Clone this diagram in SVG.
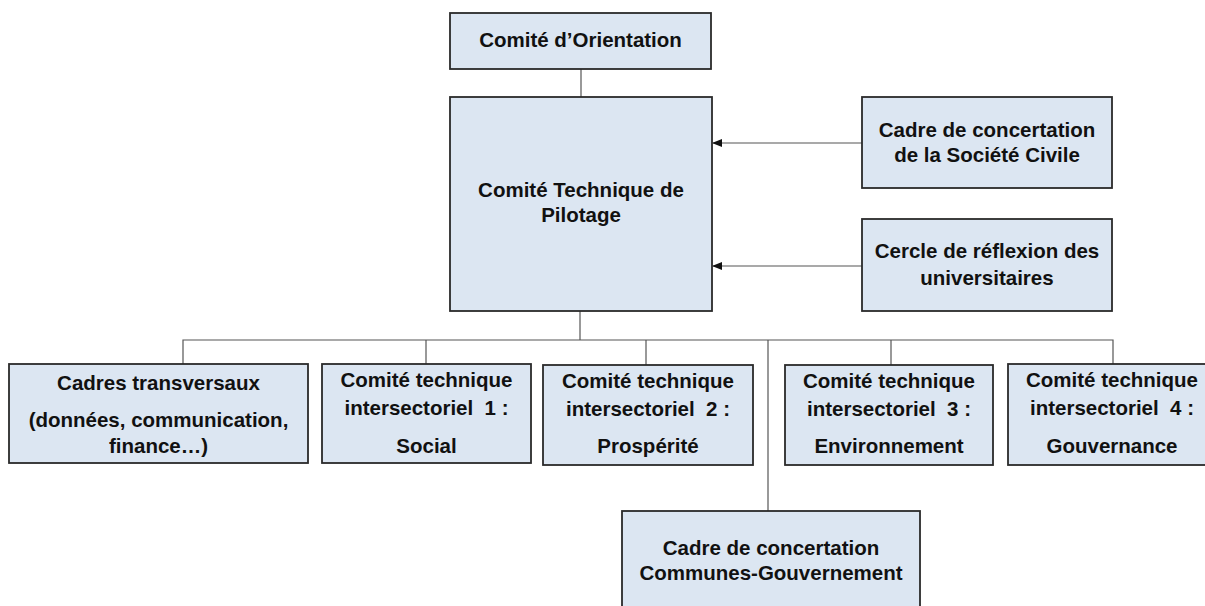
<svg xmlns="http://www.w3.org/2000/svg" width="1205" height="606" viewBox="0 0 1205 606">
<style>
.box{fill:#dce6f2;stroke:#2a2a2a;stroke-width:1.8}
.t{font-family:"Liberation Sans",Arial,sans-serif;font-weight:bold;font-size:20.5px;fill:#111;text-anchor:middle;white-space:pre}
.ln{fill:none;stroke:#555;stroke-width:1.2}
</style>
<defs>
<marker id="ah" markerWidth="10" markerHeight="8" refX="9" refY="4" orient="auto" markerUnits="userSpaceOnUse">
<path d="M0,0 L10,4 L0,8 Z" fill="#111"/>
</marker>
</defs>
<rect width="1205" height="606" fill="#fff"/>
<g id="connectors">
<line class="ln" x1="581" y1="69" x2="581" y2="97"/>
<line class="ln" x1="580" y1="311" x2="580" y2="340"/>
<polyline class="ln" points="183,364 183,340 1113,340 1113,364"/>
<line class="ln" x1="426" y1="340" x2="426" y2="364"/>
<line class="ln" x1="646" y1="340" x2="646" y2="365"/>
<line class="ln" x1="891" y1="340" x2="891" y2="365"/>
<line class="ln" x1="768" y1="340" x2="768" y2="511"/>
<line class="ln" x1="862" y1="143" x2="713" y2="143" marker-end="url(#ah)"/>
<line class="ln" x1="862" y1="266" x2="713" y2="266" marker-end="url(#ah)"/>
</g>
<g id="n-orientation">
<rect class="box" x="450" y="13" width="261" height="56"/>
<text class="t" x="580.5" y="47">Comité d’Orientation</text>
</g>
<g id="n-pilotage">
<rect class="box" x="450" y="97" width="262" height="214"/>
<text class="t" x="581" y="197">Comité Technique de</text>
<text class="t" x="581" y="222">Pilotage</text>
</g>
<g id="n-societe-civile">
<rect class="box" x="862" y="97" width="250" height="91"/>
<text class="t" x="987" y="137">Cadre de concertation</text>
<text class="t" x="987" y="162">de la Société Civile</text>
</g>
<g id="n-universitaires">
<rect class="box" x="862" y="219" width="250" height="92"/>
<text class="t" x="987" y="258">Cercle de réflexion des</text>
<text class="t" x="987" y="285">universitaires</text>
</g>
<g id="n-transversaux">
<rect class="box" x="9" y="364" width="299" height="99"/>
<text class="t" x="158.5" y="390">Cadres transversaux</text>
<text class="t" x="158.5" y="427">(données, communication,</text>
<text class="t" x="158.5" y="453">finance…)</text>
</g>
<g id="n-social">
<rect class="box" x="322" y="364" width="209" height="99"/>
<text class="t" x="426.5" y="387">Comité technique</text>
<text class="t" x="426.5" y="415">intersectoriel  1 :</text>
<text class="t" x="426.5" y="453">Social</text>
</g>
<g id="n-prosperite">
<rect class="box" x="543" y="365" width="210" height="100"/>
<text class="t" x="648" y="388">Comité technique</text>
<text class="t" x="648" y="416">intersectoriel  2 :</text>
<text class="t" x="648" y="453">Prospérité</text>
</g>
<g id="n-environnement">
<rect class="box" x="785" y="365" width="208" height="100"/>
<text class="t" x="889" y="388">Comité technique</text>
<text class="t" x="889" y="416">intersectoriel  3 :</text>
<text class="t" x="889" y="453">Environnement</text>
</g>
<g id="n-gouvernance">
<rect class="box" x="1008" y="364" width="208" height="101"/>
<text class="t" x="1112" y="387">Comité technique</text>
<text class="t" x="1112" y="415">intersectoriel  4 :</text>
<text class="t" x="1112" y="453">Gouvernance</text>
</g>
<g id="n-communes">
<rect class="box" x="622" y="511" width="298" height="110"/>
<text class="t" x="771" y="555">Cadre de concertation</text>
<text class="t" x="771" y="580">Communes-Gouvernement</text>
</g>
</svg>
